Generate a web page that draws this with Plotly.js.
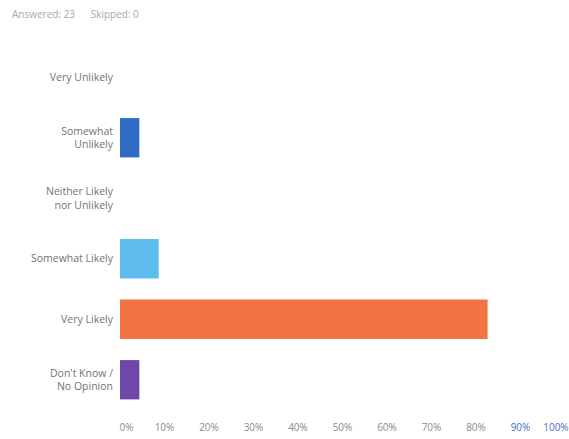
<!DOCTYPE html>
<html>
<head>
<meta charset="utf-8">
<script src="https://cdn.plot.ly/plotly-3.0.1.min.js"></script>
<style>html,body{margin:0;padding:0;background:#fff;}#chart{width:569px;height:439px;}</style>
</head>
<body>
<div id="chart"></div>
<script>
const categories = ["Very Unlikely", "Somewhat<br>Unlikely", "Neither Likely<br>nor Unlikely", "Somewhat Likely", "Very Likely", "Don't Know /<br>No Opinion"];
const values = [0, 4.35, 0, 8.70, 82.61, 4.35];
const barColors = ["#2f6cc6", "#2f6cc6", "#2f6cc6", "#5fbcef", "#f37443", "#6f47a8"];
const tickValues = [0, 10, 20, 30, 40, 50, 60, 70, 80, 90, 100];
const tickLabels = ["&nbsp;&nbsp;&nbsp;&nbsp;&nbsp;0%", "10%", "20%", "30%", "40%", "50%", "60%", "70%", "80%", "<span style='color:#4a6cc8'>90%</span>", "<span style='color:#4a6cc8'>100%</span>&nbsp;&nbsp;&nbsp;&nbsp;&nbsp;&nbsp;&nbsp;"];

const trace = {
  type: "bar",
  orientation: "h",
  x: values,
  y: categories,
  marker: {color: barColors},
  hoverinfo: "x+y"
};

const layout = {
  width: 569,
  height: 439,
  margin: {l: 120, r: 4, t: 47, b: 29},
  paper_bgcolor: "#fff",
  plot_bgcolor: "#fff",
  bargap: 0.35,
  showlegend: false,
  font: {family: "Open Sans, sans-serif", color: "#777", size: 10},
  xaxis: {
    range: [0, 100],
    tickvals: tickValues,
    ticktext: tickLabels,
    showgrid: false,
    zeroline: false,
    showline: false,
    ticks: "",
    ticklabeloverflow: "allow",
    ticklabelstandoff: 10,
    tickfont: {size: 10, color: "#8a8a8a"},
    fixedrange: true
  },
  yaxis: {
    autorange: "reversed",
    showgrid: false,
    zeroline: false,
    showline: false,
    ticks: "",
    ticklabelstandoff: 6,
    tickfont: {size: 10.5, color: "#737373"},
    fixedrange: true
  },
  annotations: [{
    xref: "paper", yref: "paper",
    x: -110/445, y: 1 + 33/363,
    xanchor: "left", yanchor: "middle",
    text: "Answered: 23&nbsp;&nbsp;&nbsp;&nbsp;&nbsp;&nbsp;Skipped: 0",
    showarrow: false,
    font: {size: 10, color: "#a8a8a8"}
  }]
};

Plotly.newPlot("chart", [trace], layout, {displayModeBar: false, staticPlot: true});
</script>
</body>
</html>
